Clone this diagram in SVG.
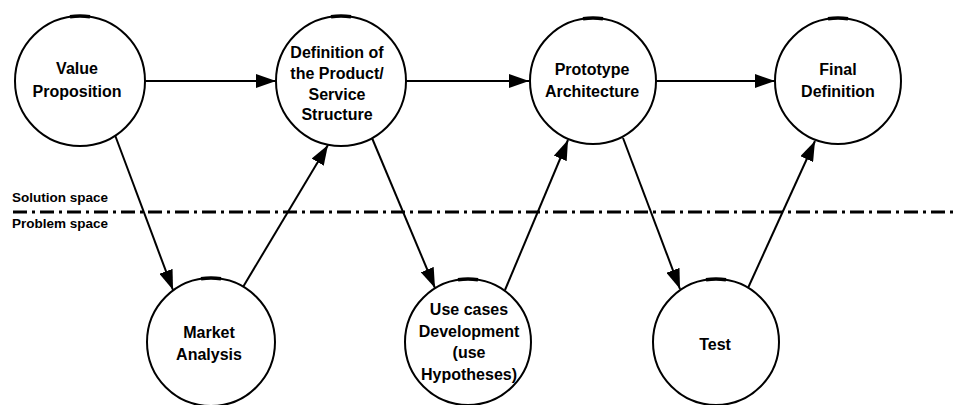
<svg xmlns="http://www.w3.org/2000/svg" width="957" height="405" viewBox="0 0 957 405">
  <defs>
    <marker id="arrow" viewBox="0 0 20 14" refX="20" refY="7" markerWidth="20" markerHeight="14" markerUnits="userSpaceOnUse" orient="auto">
      <path d="M0,0 L20,7 L0,14 z" fill="#000"/>
    </marker>
    <style>
      .node circle { fill: #fff; stroke: #000; stroke-width: 2; }
      .node .cap { fill: none; stroke: #000; stroke-width: 3.5; }
      .node text { font-family: "Liberation Sans", Arial, sans-serif; font-size: 16px; font-weight: bold; text-anchor: middle; fill: #000; }
      .edge { fill: none; stroke: #000; stroke-width: 2; marker-end: url(#arrow); }
      .space { font-family: "Liberation Sans", Arial, sans-serif; font-size: 13.5px; font-weight: bold; fill: #000; }
      .divider { stroke: #000; stroke-width: 3; stroke-dasharray: 14 5 3 5; }
    </style>
  </defs>
  <rect width="957" height="405" fill="#fff"/>

  <!-- boundary between solution space and problem space -->
  <g id="divider">
    <line class="divider" x1="13" y1="212" x2="957" y2="212"/>
    <text class="space" x="12" y="202">Solution space</text>
    <text class="space" x="12" y="228">Problem space</text>
  </g>

  <!-- connectors -->
  <g id="connectors">
    <line class="edge" x1="145" y1="81" x2="276" y2="81"/>
    <line class="edge" x1="406" y1="81" x2="529" y2="81"/>
    <line class="edge" x1="656" y1="81" x2="775" y2="81"/>
    <line class="edge" x1="115" y1="135" x2="173" y2="290"/>
    <line class="edge" x1="243" y1="287" x2="328" y2="145"/>
    <line class="edge" x1="372" y1="138" x2="435" y2="288"/>
    <line class="edge" x1="505" y1="290" x2="568" y2="140"/>
    <line class="edge" x1="623" y1="138" x2="680" y2="289"/>
    <line class="edge" x1="748" y1="288" x2="815" y2="141"/>
  </g>

  <!-- solution space nodes -->
  <g id="value-proposition" class="node">
    <circle cx="80" cy="81" r="65"/>
    <path class="cap" d="M70,16.8 A65,65 0 0 1 90,16.8"/>
    <text x="77" y="74">Value</text>
    <text x="77" y="97">Proposition</text>
  </g>
  <g id="product-definition" class="node">
    <circle cx="341" cy="81" r="65"/>
    <path class="cap" d="M331,16.8 A65,65 0 0 1 351,16.8"/>
    <text x="337" y="58">Definition of</text>
    <text x="337" y="79">the Product/</text>
    <text x="337" y="100">Service</text>
    <text x="337" y="120">Structure</text>
  </g>
  <g id="prototype-architecture" class="node">
    <circle cx="593" cy="81" r="63"/>
    <path class="cap" d="M583,18.8 A63,63 0 0 1 603,18.8"/>
    <text x="592" y="75">Prototype</text>
    <text x="592" y="97">Architecture</text>
  </g>
  <g id="final-definition" class="node">
    <circle cx="838" cy="81" r="63"/>
    <path class="cap" d="M828,18.8 A63,63 0 0 1 848,18.8"/>
    <text x="838" y="75">Final</text>
    <text x="838" y="97">Definition</text>
  </g>

  <!-- problem space nodes -->
  <g id="market-analysis" class="node">
    <circle cx="211" cy="342" r="64"/>
    <path class="cap" d="M201,278.8 A64,64 0 0 1 221,278.8"/>
    <text x="209" y="338">Market</text>
    <text x="209" y="360">Analysis</text>
  </g>
  <g id="use-cases" class="node">
    <circle cx="468" cy="342" r="63"/>
    <path class="cap" d="M458,279.8 A63,63 0 0 1 478,279.8"/>
    <text x="469" y="315">Use cases</text>
    <text x="469" y="337">Development</text>
    <text x="469" y="358">(use</text>
    <text x="469" y="380">Hypotheses)</text>
  </g>
  <g id="test" class="node">
    <circle cx="716" cy="342" r="63"/>
    <path class="cap" d="M706,279.8 A63,63 0 0 1 726,279.8"/>
    <text x="715" y="350">Test</text>
  </g>
</svg>
